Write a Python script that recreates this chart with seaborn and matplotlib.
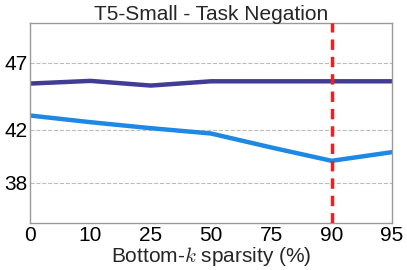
import matplotlib
matplotlib.use("Agg")
import matplotlib.pyplot as plt
import seaborn as sns
import pandas as pd

categories = ["0", "10", "25", "50", "75", "90", "95"]
series_a = [45.45, 45.65, 45.3, 45.62, 45.62, 45.62, 45.62]
series_b = [43.05, 42.55, 42.1, 41.7, 40.65, 39.65, 40.3]
yticks = [38, 42, 47]
vline_cat = 5

sns.set_theme(style="white")
plt.rcParams['font.family'] = ['Liberation Sans', 'DejaVu Sans']
plt.rcParams['mathtext.fontset'] = 'cm'

df = pd.DataFrame({"x": list(range(len(categories))) * 2,
                   "y": series_a + series_b,
                   "s": ["a"] * len(categories) + ["b"] * len(categories)})

fig, ax = plt.subplots(figsize=(4.07, 2.70), dpi=100)
sns.lineplot(data=df, x="x", y="y", hue="s", palette={"a": "#423c94", "b": "#1e88e5"},
             linewidth=3.2, legend=False, ax=ax)
ax.axvline(vline_cat, color="#ff1a1a", linestyle=(0, (3, 2)), linewidth=2.5, zorder=5)
ax.set_xlim(0, len(categories) - 1)
ax.set_ylim(35, 50)
ax.set_xticks(range(len(categories)))
ax.set_xticklabels(categories)
ax.set_yticks(yticks)
ax.yaxis.grid(True, linestyle="--", color="#bbbbbb", linewidth=0.8)
ax.set_axisbelow(True)
ax.tick_params(axis="both", labelsize=15, length=0, pad=2, colors="black")
for sp in ax.spines.values():
    sp.set_color("#999999")
    sp.set_linewidth(1)
ax.set_xlabel(r"Bottom-$k$ sparsity (%)", fontsize=15, labelpad=0)
ax.set_ylabel("")
ax.set_title("T5-Small - Task Negation", fontsize=15, pad=2)
fig.subplots_adjust(left=0.074, right=0.963, top=0.915, bottom=0.175)
fig.savefig("out.png", dpi=100)
